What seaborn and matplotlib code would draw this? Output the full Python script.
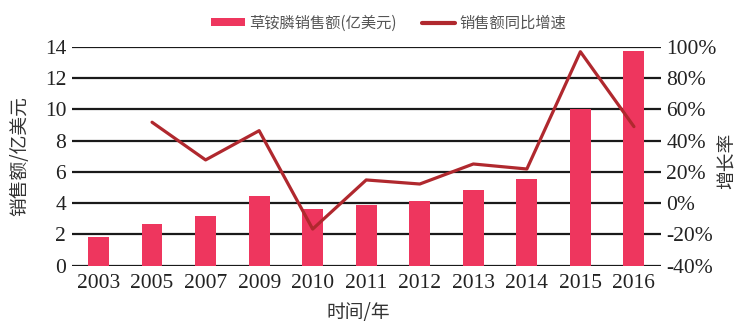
import numpy as np
import pandas as pd
import matplotlib
matplotlib.use("Agg")
import matplotlib.pyplot as plt
import seaborn as sns
from matplotlib.patches import Patch
from matplotlib.lines import Line2D
from matplotlib.ticker import FuncFormatter

years = ["2003", "2005", "2007", "2009", "2010", "2011", "2012", "2013", "2014", "2015", "2016"]
sales = [1.85, 2.67, 3.18, 4.46, 3.62, 3.88, 4.16, 4.84, 5.54, 10.02, 13.73]
growth = [np.nan, 51.7, 27.6, 46.3, -16.6, 14.8, 12.2, 25.0, 21.8, 96.8, 48.9]
left_ticks = [0, 2, 4, 6, 8, 10, 12, 14]
right_ticks = [-40, -20, 0, 20, 40, 60, 80, 100]

bar_color = "#EE365E"
line_color = "#B0282E"
cjk = ["Noto Sans CJK SC", "DejaVu Sans"]
serif = ["Liberation Serif", "DejaVu Serif"]

sns.set_theme(style="white")
plt.rcParams["font.family"] = serif

df = pd.DataFrame({"year": years, "sales": sales, "growth": growth, "pos": np.arange(len(years))})

fig = plt.figure(figsize=(7.48, 3.30), dpi=100)
ax = fig.add_axes([0.0959, 0.195, 0.7874, 0.6635])
sns.barplot(data=df, x="year", y="sales", color=bar_color, width=0.39, saturation=1,
            linewidth=0, edgecolor="none", ax=ax, zorder=3)
ax.set_ylim(0, 14)
ax.set_yticks(left_ticks)
ax.set_xlim(-0.5, 10.5)
for t in left_ticks:
    ax.axhline(t, color="#1a1a1a", lw=1.6, zorder=1)
for s in ax.spines.values():
    s.set_visible(False)
ax.tick_params(axis="both", length=0, labelsize=15.5, colors="#222222", pad=4)
ax.tick_params(axis="x", pad=6)
ax.set_xlabel("时间/年", fontsize=13.5, family=cjk, fontweight="light", color="#333333")
ax.xaxis.set_label_coords(0.486, -0.165)
ax.set_ylabel("销售额/亿美元", fontsize=13.5, family=cjk, fontweight="light", color="#333333")
ax.yaxis.set_label_coords(-0.071, 0.5)

ax2 = ax.twinx()
dg = df.dropna()
sns.lineplot(data=dg, x="pos", y="growth", color=line_color, lw=2.3, ax=ax2, zorder=4)
ax2.set_ylim(-40, 100)
ax2.set_yticks(right_ticks)
ax2.yaxis.set_major_formatter(FuncFormatter(lambda v, p: f"{int(v)}%"))
ax2.set_xlim(-0.5, 10.5)
for s in ax2.spines.values():
    s.set_visible(False)
ax2.tick_params(axis="y", length=0, labelsize=15.5, colors="#222222", pad=4)
ax2.set_ylabel("增长率", fontsize=13.5, family=cjk, fontweight="light", color="#333333")
ax2.yaxis.set_label_coords(1.095, 0.48)

handles = [Patch(facecolor=bar_color, edgecolor="none"), Line2D([0], [0], color=line_color, lw=3)]
labels = ["草铵膦销售额(亿美元)", "销售额同比增速"]
leg = fig.legend(handles, labels, loc="center", bbox_to_anchor=(0.52, 0.93), ncol=2, frameon=False,
                 prop={"family": cjk, "size": 11, "weight": "light"}, handlelength=2.2, handleheight=0.45,
                 handletextpad=0.3, columnspacing=1.6, labelcolor="#555555")

fig.savefig("out.png", dpi=100)
